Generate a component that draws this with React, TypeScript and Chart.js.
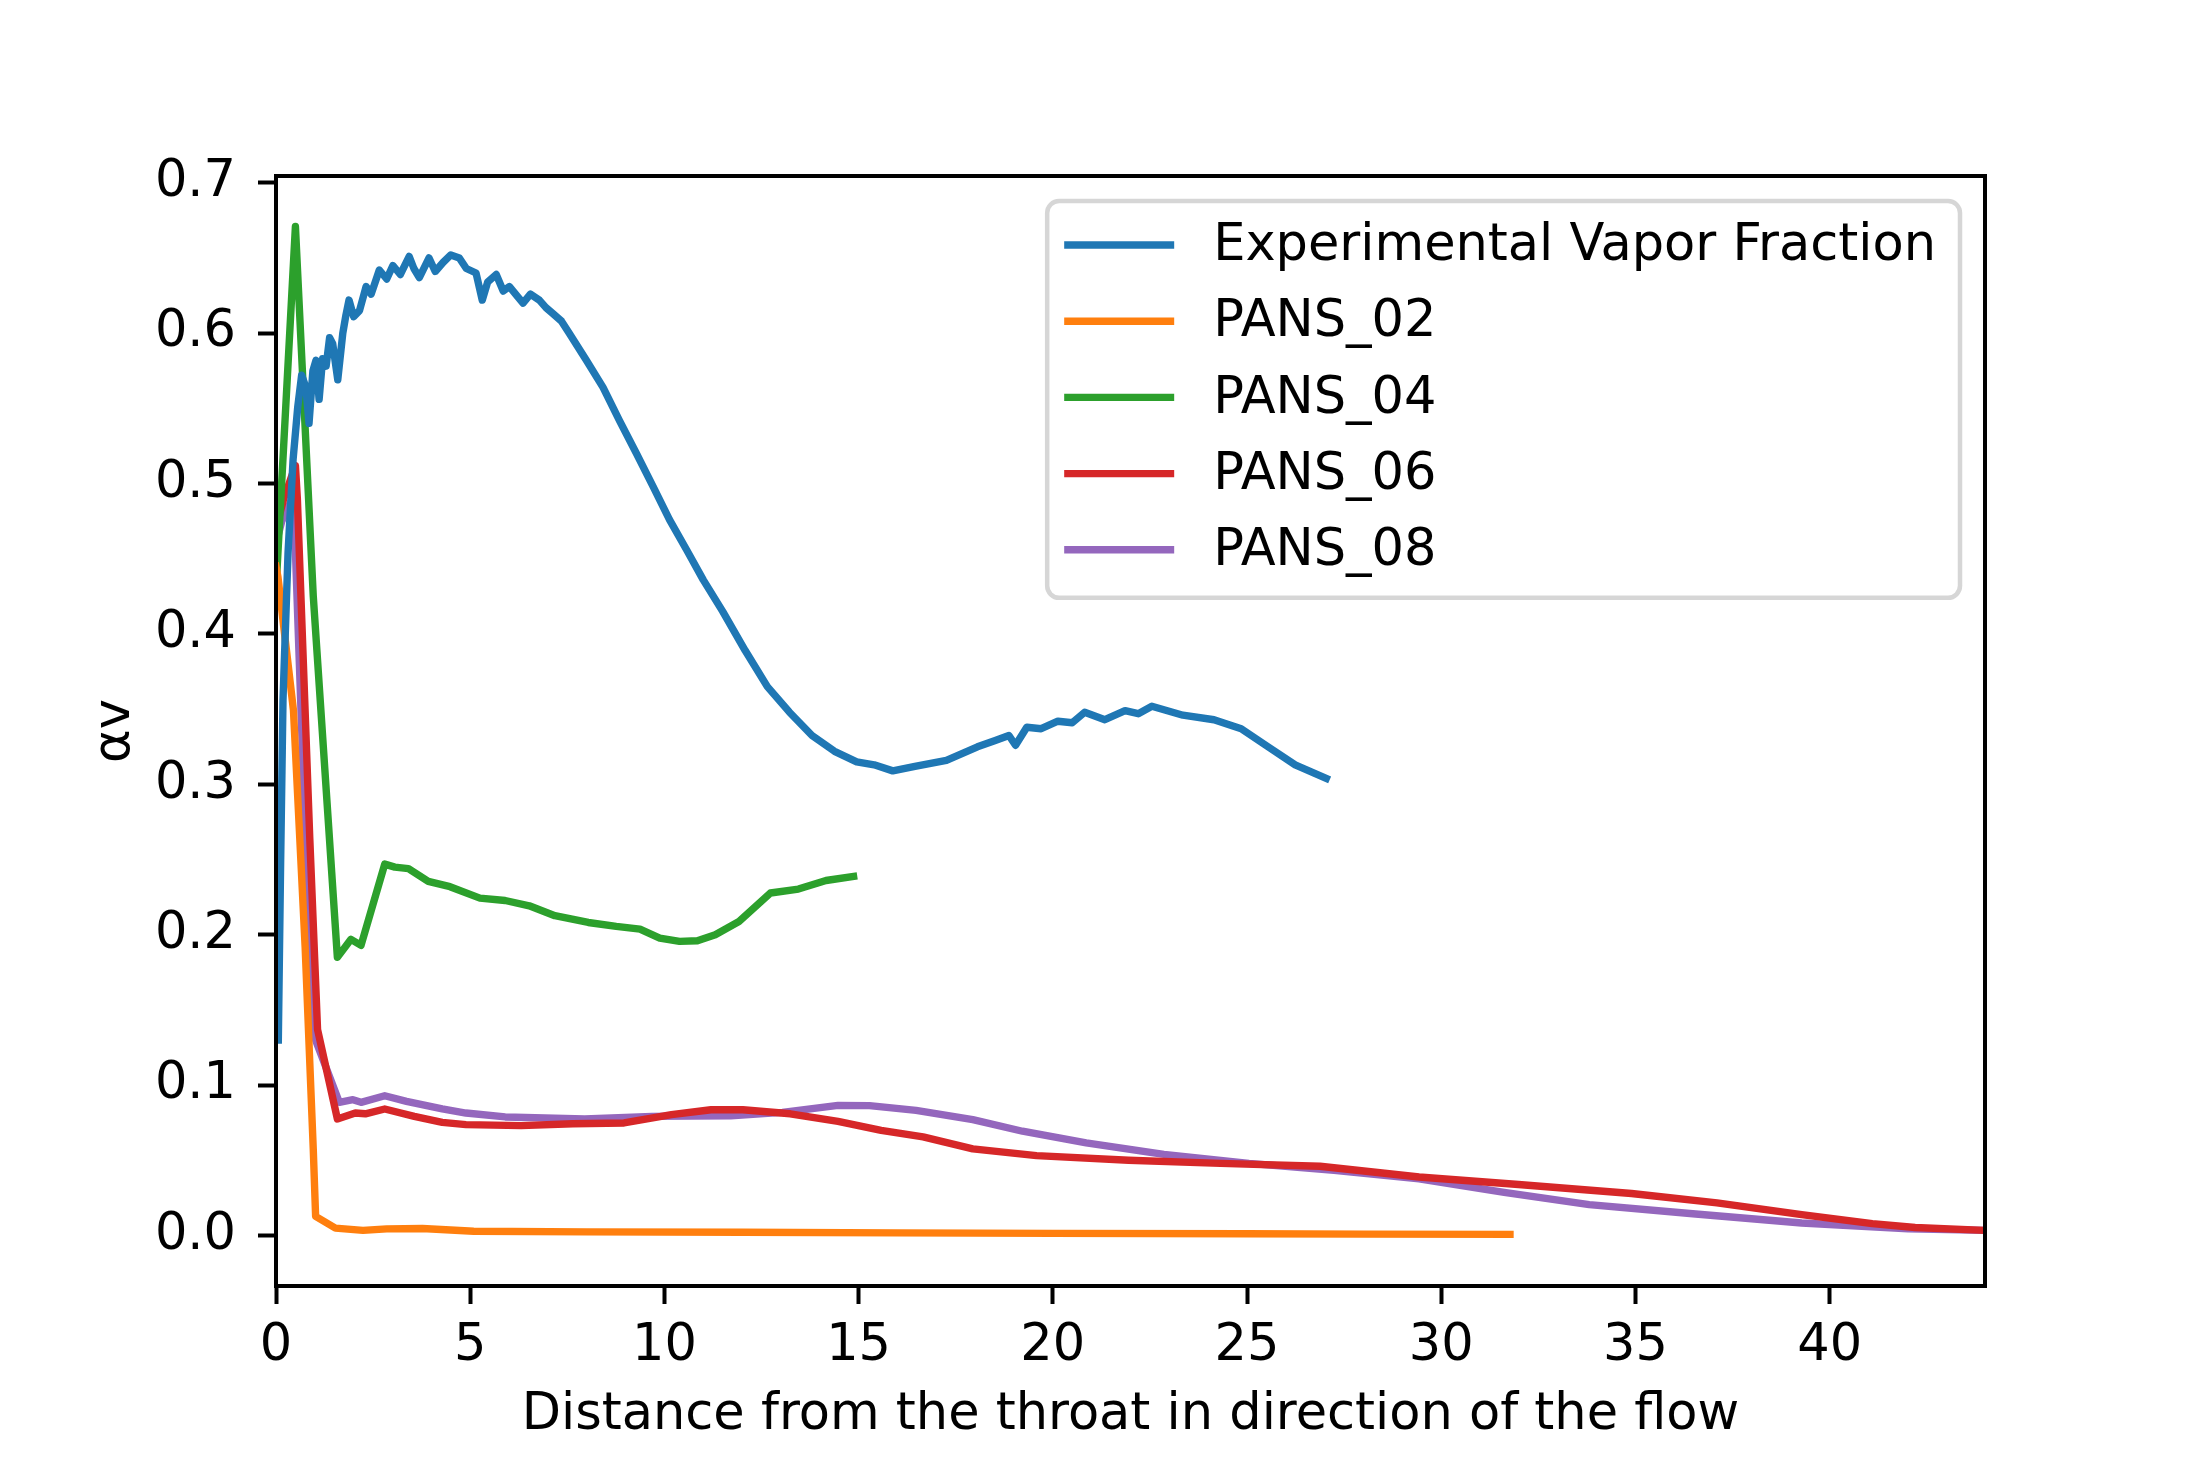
import { useEffect, useRef } from "react";
import { Chart, registerables } from "chart.js";

Chart.register(...registerables);

const FONT = "'DejaVu Sans', sans-serif";
const FONT_SIZE = 51;

// Experimental vapor fraction (noisy measurement)
const expX = [
  0.06, 0.12, 0.18, 0.31, 0.44, 0.56, 0.66, 0.77, 0.85, 0.95, 1.03, 1.11, 1.2, 1.29, 1.38,
  1.46, 1.59, 1.72, 1.8, 1.88, 2.0, 2.15, 2.32, 2.45, 2.66, 2.85, 3.01, 3.2, 3.43, 3.55, 3.69,
  3.94, 4.1, 4.3, 4.5, 4.72, 4.9, 5.15, 5.31, 5.45, 5.67, 5.85, 6.01, 6.2, 6.36, 6.55, 6.78,
  6.95, 7.13, 7.35, 7.55, 7.99, 8.42, 8.84, 9.28, 9.71, 10.13, 10.57, 11.0, 11.5, 12.08,
  12.65, 13.22, 13.8, 14.38, 14.95, 15.4, 15.88, 16.45, 17.26, 18.06, 18.5, 18.87, 19.04,
  19.33, 19.7, 20.13, 20.5, 20.82, 21.34, 21.86, 22.2, 22.55, 23.35, 24.15, 24.85, 25.54,
  26.24, 27.04,
];
const expY = [
  0.13, 0.25, 0.356, 0.454, 0.516, 0.551, 0.572, 0.564, 0.54, 0.575, 0.582, 0.556, 0.583,
  0.578, 0.597, 0.593, 0.569, 0.6, 0.612, 0.622, 0.611, 0.615, 0.631, 0.626, 0.642, 0.636,
  0.645, 0.639, 0.651, 0.643, 0.637, 0.65, 0.641, 0.647, 0.652, 0.65, 0.643, 0.64, 0.622,
  0.634, 0.639, 0.628, 0.631, 0.625, 0.62, 0.626, 0.622, 0.617, 0.613, 0.608, 0.6, 0.582,
  0.564, 0.542, 0.52, 0.498, 0.476, 0.456, 0.436, 0.415, 0.389, 0.365, 0.348, 0.3325, 0.322,
  0.315, 0.313, 0.309, 0.312, 0.316, 0.325, 0.329, 0.3325, 0.326, 0.338, 0.337, 0.342, 0.341,
  0.348, 0.343, 0.349, 0.347, 0.352, 0.346, 0.343, 0.337, 0.325, 0.313, 0.304,
];

const pans02X = [
  0, 0.05, 0.45, 0.75, 0.96, 1.02, 1.53, 2.24, 2.85, 3.77, 5.09, 8, 12, 16, 20, 25, 28, 31.77,
];
const pans02Y = [
  0.445, 0.438, 0.349, 0.192, 0.057, 0.0128, 0.005, 0.0035, 0.0045, 0.0047, 0.0029, 0.0025,
  0.0022, 0.0018, 0.0015, 0.0012, 0.001, 0.0008,
];

const pans04X = [
  0, 0.5, 0.96, 1.58, 1.93, 2.19, 2.8, 3.06, 3.41, 3.92, 4.48, 5.25, 5.9, 6.52, 7.18, 8.04,
  8.76, 9.37, 9.88, 10.39, 10.85, 11.31, 11.92, 12.73, 13.45, 14.16, 14.87,
];
const pans04Y = [
  0.43, 0.671, 0.425, 0.185, 0.197, 0.193, 0.247, 0.245, 0.244, 0.2355, 0.232, 0.2244, 0.2228,
  0.2193, 0.2127, 0.2082, 0.2056, 0.2038, 0.1978, 0.1956, 0.196, 0.2, 0.2089, 0.2278, 0.2304,
  0.2361, 0.2388,
];

const pans06X = [
  0, 0.2, 0.5, 0.55, 0.87, 1.07, 1.58, 2.04, 2.3, 2.8, 3.56, 4.28, 4.89, 6.31, 7.64, 8.96,
  10.18, 11.2, 12.02, 13.24, 14.47, 15.58, 16.66, 17.94, 19.58, 21.95, 24.32, 26.88, 29.43,
  31.99, 34.9, 37.1, 39.28, 41.1, 42.2, 44,
];
const pans06Y = [
  0.47, 0.49, 0.512, 0.49, 0.264, 0.137, 0.0776, 0.0815, 0.081, 0.0842, 0.0793, 0.0753, 0.0738,
  0.0731, 0.0744, 0.0749, 0.0804, 0.0837, 0.0837, 0.081, 0.076, 0.07, 0.0656, 0.0577, 0.0532,
  0.0501, 0.048, 0.0461, 0.039, 0.034, 0.028, 0.0218, 0.014, 0.008, 0.0054, 0.0035,
];

const pans08X = [
  0, 0.15, 0.45, 0.76, 1.02, 1.63, 1.98, 2.19, 2.8, 3.36, 4.28, 4.89, 5.9, 7.95, 9.68, 11.71,
  13.04, 14.47, 15.28, 16.48, 17.94, 19.22, 20.86, 22.86, 25.05, 27.24, 29.43, 31.62, 33.81,
  36.55, 39.28, 42.02, 44,
];
const pans08Y = [
  0.46, 0.475, 0.492, 0.264, 0.13, 0.0886, 0.0904, 0.0886, 0.093, 0.0893, 0.0842, 0.0815,
  0.0789, 0.0776, 0.0793, 0.0797, 0.0819, 0.0866, 0.0864, 0.0833, 0.0771, 0.0694, 0.0617,
  0.054, 0.048, 0.0434, 0.0377, 0.0288, 0.0206, 0.0144, 0.0084, 0.0045, 0.0035,
];

const seriesLabels = ["Experimental Vapor Fraction", "PANS_02", "PANS_04", "PANS_06", "PANS_08"];
const seriesColors = ["#1f77b4", "#ff7f0e", "#2ca02c", "#d62728", "#9467bd"];
const seriesX = [expX, pans02X, pans04X, pans06X, pans08X];
const seriesY = [expY, pans02Y, pans04Y, pans06Y, pans08Y];

const xTickValues = [0, 5, 10, 15, 20, 25, 30, 35, 40];
const yTickValues = [0, 0.1, 0.2, 0.3, 0.4, 0.5, 0.6, 0.7];

const LINE_W = 7.4;

// black box around the plot area, drawn over the lines like matplotlib spines
const framePlugin = {
  id: "frame",
  afterDatasetsDraw(chart: any) {
    const { ctx, chartArea } = chart;
    ctx.save();
    ctx.strokeStyle = "#000";
    ctx.lineWidth = 4;
    ctx.strokeRect(
      chartArea.left,
      chartArea.top,
      chartArea.right - chartArea.left,
      chartArea.bottom - chartArea.top
    );
    ctx.restore();
  },
};

// legend inside the upper right corner of the plot
const legendPlugin = {
  id: "boxLegend",
  afterDraw(chart: any) {
    const { ctx, chartArea } = chart;
    const datasets = chart.data.datasets;
    ctx.save();
    ctx.font = `${FONT_SIZE}px ${FONT}`;
    const textW = Math.max(...datasets.map((d: any) => ctx.measureText(d.label).width));
    const rowH = 76.2;
    const w = 17 + 110 + 39 + textW + 24;
    const h = 42 + rowH * (datasets.length - 1) + 50;
    const right = chartArea.right - 25;
    const left = right - w;
    const top = chartArea.top + 25;

    ctx.beginPath();
    ctx.roundRect(left, top, w, h, 12);
    ctx.fillStyle = "rgba(255,255,255,0.8)";
    ctx.fill();
    ctx.lineWidth = 4.5;
    ctx.strokeStyle = "rgba(204,204,204,0.8)";
    ctx.stroke();

    datasets.forEach((d: any, i: number) => {
      const y = top + 44 + i * rowH;
      ctx.beginPath();
      ctx.moveTo(left + 17, y);
      ctx.lineTo(left + 127, y);
      ctx.strokeStyle = d.borderColor;
      ctx.lineWidth = LINE_W;
      ctx.lineCap = "butt";
      ctx.stroke();
      ctx.fillStyle = "#000";
      ctx.textBaseline = "middle";
      ctx.textAlign = "left";
      ctx.fillText(d.label, left + 166, y + 2);
    });
    ctx.restore();
  },
};

export default function App() {
  const chartRef = useRef<HTMLCanvasElement>(null);
  const chartInstance = useRef<Chart | null>(null);

  useEffect(() => {
    if (!chartRef.current) return;
    if (chartInstance.current) chartInstance.current.destroy();

    const ctx = chartRef.current.getContext("2d");
    if (!ctx) return;

    const tickFont = { family: FONT, size: FONT_SIZE };

    chartInstance.current = new Chart(ctx, {
      type: "line",
      data: {
        datasets: seriesLabels.map((label, i) => ({
          label,
          data: seriesX[i].map((x, j) => ({ x, y: seriesY[i][j] })),
          borderColor: seriesColors[i],
          backgroundColor: seriesColors[i],
          borderWidth: LINE_W,
          borderJoinStyle: "round" as const,
          borderCapStyle: "square" as const,
          pointRadius: 0,
          tension: 0,
          fill: false,
        })),
      },
      options: {
        animation: false,
        responsive: true,
        maintainAspectRatio: false,
        events: [],
        layout: { padding: { top: 176, right: 220, bottom: 0, left: 0 } },
        plugins: {
          legend: { display: false },
          tooltip: { enabled: false },
        },
        scales: {
          x: {
            type: "linear",
            min: 0,
            max: 44,
            afterBuildTicks: (scale: any) => {
              scale.ticks = xTickValues.map((value) => ({ value }));
            },
            afterFit: (scale: any) => {
              scale.height = 184;
            },
            grid: {
              drawOnChartArea: false,
              drawTicks: true,
              tickLength: 18,
              tickWidth: 4,
              tickColor: "#000",
            },
            border: { display: false },
            ticks: {
              color: "#000",
              font: tickFont,
              padding: 12,
              maxRotation: 0,
              autoSkip: false,
              callback: (v: any) => String(v),
            },
            title: {
              display: true,
              text: "Distance from the throat in direction of the flow",
              color: "#000",
              font: tickFont,
              padding: { top: 0, bottom: 24 },
            },
          },
          y: {
            type: "linear",
            min: -0.0335,
            max: 0.7045,
            afterBuildTicks: (scale: any) => {
              scale.ticks = yTickValues.map((value) => ({ value }));
            },
            afterFit: (scale: any) => {
              scale.width = 276;
            },
            grid: {
              drawOnChartArea: false,
              drawTicks: true,
              tickLength: 18,
              tickWidth: 4,
              tickColor: "#000",
            },
            border: { display: false },
            ticks: {
              color: "#000",
              font: tickFont,
              padding: 22,
              autoSkip: false,
              callback: (v: any) => Number(v).toFixed(1),
            },
            title: {
              display: true,
              text: "αv",
              color: "#000",
              font: tickFont,
              padding: { top: 85, bottom: 0 },
            },
          },
        },
      },
      plugins: [framePlugin, legendPlugin],
    });

    const handleResize = () => {
      chartInstance.current?.resize();
    };
    window.addEventListener("resize", handleResize);

    return () => {
      if (chartInstance.current) {
        chartInstance.current.destroy();
        chartInstance.current = null;
      }
      window.removeEventListener("resize", handleResize);
    };
  }, []);

  return (
    <div
      style={{
        position: "absolute",
        left: 0,
        top: 0,
        width: 2205,
        height: 1470,
        background: "#fff",
      }}
    >
      <canvas ref={chartRef} />
    </div>
  );
}
